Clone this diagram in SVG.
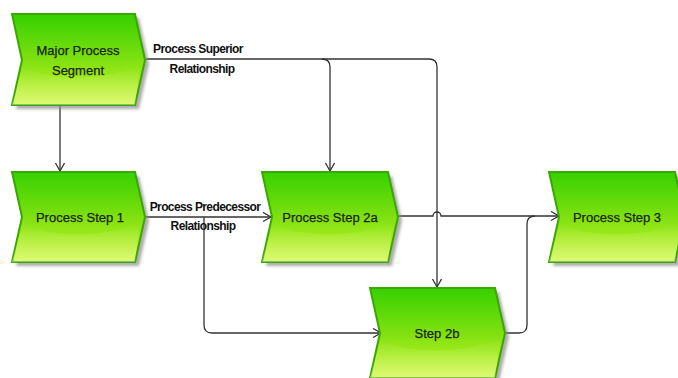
<svg xmlns="http://www.w3.org/2000/svg" width="678" height="378" viewBox="0 0 678 378">
<defs>
<linearGradient id="g" x1="0" y1="0" x2="0" y2="1">
<stop offset="0" stop-color="#36d000"/>
<stop offset="0.5" stop-color="#7fe010"/>
<stop offset="1" stop-color="#cdf72a"/>
</linearGradient>
<linearGradient id="hl" x1="0" y1="0" x2="0" y2="1">
<stop offset="0" stop-color="#ffffff" stop-opacity="0"/>
<stop offset="1" stop-color="#ffffff" stop-opacity="0.35"/>
</linearGradient>
<filter id="blur" x="-10%" y="-10%" width="130%" height="130%"><feGaussianBlur stdDeviation="1.5"/></filter>
<marker id="arr" markerWidth="12" markerHeight="12" refX="9" refY="5" orient="auto" markerUnits="userSpaceOnUse">
<path d="M1,0.5 L9,5 L1,9.5" fill="none" stroke="#333" stroke-width="1.3"/>
</marker>
</defs>
<style>
.sh{fill:#8a8a8a;opacity:0.7;filter:url(#blur)}
.bx{fill:url(#g);stroke:#3aa800;stroke-width:2}
.hl{fill:url(#hl)}
.t{font-family:"Liberation Sans",Arial,sans-serif;font-size:13px;fill:#1a2410;text-anchor:middle;stroke:#1a2410;stroke-width:0.25}
.lb{font-family:"Liberation Sans",Arial,sans-serif;font-size:12px;font-weight:bold;fill:#111;text-anchor:middle;letter-spacing:-0.6px}
.c{fill:none;stroke:#333;stroke-width:1.3}
</style>
<rect width="678" height="378" fill="#ffffff"/>

<g id="connectors">
<path class="c" d="M60,106 V171" marker-end="url(#arr)"/>
<path class="c" d="M146,59 H322 Q330,59 330,67 V171" marker-end="url(#arr)"/>
<path class="c" d="M322,59 H429 Q437,59 437,67 V287" marker-end="url(#arr)"/>
<path class="c" d="M146,217 H271" marker-end="url(#arr)"/>
<path class="c" d="M204,217 V325 Q204,333 212,333 H381" marker-end="url(#arr)"/>
<path class="c" d="M399,216 H433 A4,4 0 0 1 441,216 H559" marker-end="url(#arr)"/>
<path class="c" d="M506,333 H519 Q527,333 527,325 V224 Q527,216 535,216"/>
</g>

<g id="n-major">
<polygon class="sh" points="16,18 139,18 149,64 139,109 16,109 26,64"/>
<polygon class="bx" points="12,14 135,14 145,60 135,105 12,105 22,60"/>
<path class="hl" d="M22,68 Q80,88 140,66 L135,105 L12,105 Z"/>
<text class="t" x="78" y="55">Major Process</text>
<text class="t" x="78" y="75">Segment</text>
</g>

<g id="n-step1">
<polygon class="sh" points="16,176 139,176 149,221 139,266 16,266 26,221"/>
<polygon class="bx" points="12,172 135,172 145,217 135,262 12,262 22,217"/>
<path class="hl" d="M22,225 Q80,245 140,223 L135,262 L12,262 Z"/>
<text class="t" x="80" y="222">Process Step 1</text>
</g>

<g id="n-step2a">
<polygon class="sh" points="266,176 392,176 402,221 392,266 266,266 276,221"/>
<polygon class="bx" points="262,172 388,172 398,217 388,262 262,262 272,217"/>
<path class="hl" d="M272,225 Q330,245 393,223 L388,262 L262,262 Z"/>
<text class="t" x="330" y="222">Process Step 2a</text>
</g>

<g id="n-step2b">
<polygon class="sh" points="374,292 499,292 509,337 499,382 374,382 384,337"/>
<polygon class="bx" points="370,288 495,288 505,333 495,378 370,378 380,333"/>
<path class="hl" d="M380,341 Q437,361 500,339 L495,378 L370,378 Z"/>
<text class="t" x="437" y="338">Step 2b</text>
</g>

<g id="n-step3">
<polygon class="sh" points="553,176 679,176 689,221 679,266 553,266 563,221"/>
<polygon class="bx" points="549,172 675,172 685,217 675,262 549,262 559,217"/>
<path class="hl" d="M559,225 Q617,245 680,223 L675,262 L549,262 Z"/>
<text class="t" x="617" y="222">Process Step 3</text>
</g>

<g id="labels">
<text class="lb" x="198" y="53">Process Superior</text>
<text class="lb" x="202" y="73">Relationship</text>
<text class="lb" x="205" y="211">Process Predecessor</text>
<text class="lb" x="203" y="230">Relationship</text>
</g>
</svg>
